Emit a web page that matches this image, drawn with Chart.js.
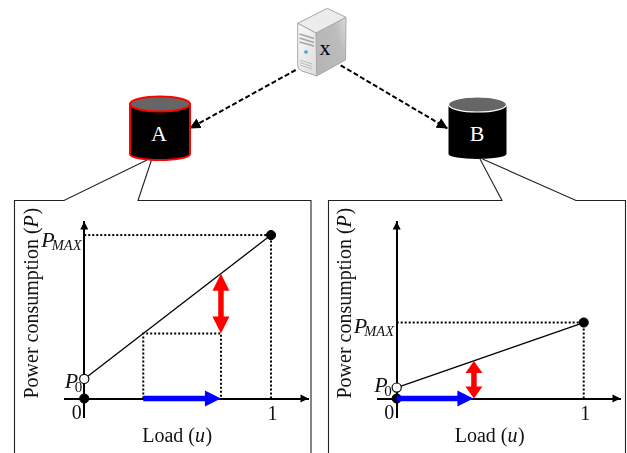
<!DOCTYPE html>
<html>
<head>
<meta charset="utf-8">
<title>Power consumption of servers A and B</title>
<script src="https://cdn.jsdelivr.net/npm/chart.js@4"></script>
<style>
    html, body { margin: 0; padding: 0; background: #fff; }
    #stage { position: relative; width: 627px; height: 453px; overflow: hidden; }
    #diagram { position: absolute; left: 0; top: 0; }
    canvas { position: absolute; top: 201px; }
    #panelA { left: 15px; }
    #panelB { left: 329px; }
</style>
</head>
<body>
<div id="stage">
    <svg id="diagram" width="627" height="453" viewBox="0 0 627 453">
        <defs>
            <linearGradient id="front" x1="0" y1="0" x2="1" y2="1">
                <stop offset="0" stop-color="#fafafa"/>
                <stop offset="1" stop-color="#dcdcdc"/>
            </linearGradient>
            <linearGradient id="side" x1="1" y1="0" x2="0" y2="0.6">
                <stop offset="0" stop-color="#dadada"/>
                <stop offset="0.35" stop-color="#bcbcbc"/>
                <stop offset="1" stop-color="#b6b6b6"/>
            </linearGradient>
            <marker id="head" viewBox="0 0 10 10" refX="9.5" refY="5" markerWidth="5.5" markerHeight="5.5" orient="auto">
                <path d="M0,0 L10,5 L0,10 z" fill="#000"/>
            </marker>
        </defs>

        <!-- panel frames and callouts -->
        <g fill="none" stroke="#222" stroke-width="1.1">
            <path d="M147,160 L64,200.5 L14.5,200.5 L14.5,453"/>
            <path d="M151.5,160 L138,200.5 L311,200.5 L311,453"/>
            <path d="M480,159 L502,200.5 L328.5,200.5 L328.5,453"/>
            <path d="M482.5,159 L576,200.5 L625.5,200.5 L625.5,453"/>
        </g>

        <!-- dashed links -->
        <g fill="none" stroke="#000" stroke-width="2" stroke-dasharray="5 2.5" marker-end="url(#head)">
            <line x1="295.7" y1="70" x2="190" y2="128.3"/>
            <line x1="340.7" y1="65.3" x2="447.3" y2="128.3"/>
        </g>

        <!-- server x -->
        <g stroke-linejoin="round">
            <path d="M316,33 L346,17.3 L345.5,60 L316.7,76 z" fill="url(#side)" stroke="#a8a8a8"/>
            <path d="M297.7,23.3 L327.3,8.3 L346,17.3 L316,33 z" fill="#ececec" stroke="#a8a8a8"/>
            <path d="M297.7,23.3 L316,33 L316.7,76 L302,71 Q297.7,69 297.7,66 z" fill="url(#front)" stroke="#a8a8a8"/>
            <path d="M299.5,34 L314,38.5 M299.5,38 L314,42.5 M299.5,42 L314,46" stroke="#a6a6a6" stroke-width="1.6"/>
            <circle cx="306" cy="52" r="1.8" fill="#3aa0e0"/>
            <path d="M300,60 L312,64 M300,62.5 L312,66.5 M300,65 L312,69" stroke="#b0b0b0" stroke-width="0.8"/>
        </g>
        <text x="325" y="55" font-family="Liberation Serif" font-size="22" text-anchor="middle" fill="#000">x</text>

        <!-- disk A -->
        <path d="M130,104 L130,154 A30,6 0 0 0 190,154 L190,104 z" fill="#000" stroke="#f00" stroke-width="2"/>
        <ellipse cx="160" cy="104" rx="30" ry="7.5" fill="#666" stroke="#f00" stroke-width="2"/>
        <text x="159" y="141" font-family="Liberation Serif" font-size="22" text-anchor="middle" fill="#fff">A</text>

        <!-- disk B -->
        <path d="M448.5,104 L448.5,154 A29,5 0 0 0 506.5,154 L506.5,104 z" fill="#000"/>
        <ellipse cx="477.5" cy="104.5" rx="29" ry="7.5" fill="#666" stroke="#fff" stroke-width="1.2"/>
        <text x="477" y="141" font-family="Liberation Serif" font-size="22" text-anchor="middle" fill="#fff">B</text>
    </svg>
    <canvas id="panelA" width="296" height="252"></canvas>
    <canvas id="panelB" width="297" height="252"></canvas>
</div>

<script>
const xTickValues = [0, 1];
const xTickLabels = ['0', '1'];

// panel A, server with the wide power range
const loadA = [0, 1];
const powerA = [0.12, 1];
const stepLoadA = [0.316, 0.732];
const stepPowerA = [0.398, 0.764];

// panel B, server with the narrow power range
const loadB = [0, 1];
const powerB = [0.067, 0.465];
const stepLoadB = [0, 0.41];
const stepPowerB = [0, 0.23];

const SERIF = '"Liberation Serif", serif';

function arrowHead(ctx, x, y, angle, len, width, color) {
    ctx.save();
    ctx.translate(x, y);
    ctx.rotate(angle);
    ctx.fillStyle = color;
    ctx.beginPath();
    ctx.moveTo(0, 0);
    ctx.lineTo(-len, -width / 2);
    ctx.lineTo(-len, width / 2);
    ctx.closePath();
    ctx.fill();
    ctx.restore();
}

function shaft(ctx, x1, y1, x2, y2, width, color) {
    ctx.strokeStyle = color;
    ctx.lineWidth = width;
    ctx.beginPath();
    ctx.moveTo(x1, y1);
    ctx.lineTo(x2, y2);
    ctx.stroke();
}

function text(ctx, str, x, y, font, align) {
    ctx.font = font;
    ctx.textAlign = align || 'left';
    ctx.fillStyle = '#111';
    ctx.fillText(str, x, y);
}

const panelExtras = {
    id: 'panelExtras',
    afterDraw(chart, args, opts) {
        const ctx = chart.ctx;
        const sx = chart.scales.x, sy = chart.scales.y;
        const x0 = sx.getPixelForValue(0), y0 = sy.getPixelForValue(0);
        ctx.save();
        ctx.textBaseline = 'alphabetic';

        // axis arrow heads
        arrowHead(ctx, sx.right + 0.5, y0, 0, 8, 8, '#000');
        arrowHead(ctx, x0, sy.top - 0.5, -Math.PI / 2, 8, 8, '#000');

        // blue load arrow
        const bx1 = sx.getPixelForValue(opts.blue[0]), bx2 = sx.getPixelForValue(opts.blue[1]);
        shaft(ctx, bx1, y0, bx2 - 14, y0, 5.5, '#0000ff');
        arrowHead(ctx, bx2, y0, 0, 16, 16, '#0000ff');

        // red double arrow
        const rx = sx.getPixelForValue(opts.redX);
        const ry1 = sy.getPixelForValue(opts.red[0]), ry2 = sy.getPixelForValue(opts.red[1]);
        const redLen = opts.redHead;
        shaft(ctx, rx, ry1 - redLen + 2, rx, ry2 + redLen - 2, 5.5, '#ff0000');
        arrowHead(ctx, rx, ry1, Math.PI / 2, redLen, 17, '#ff0000');
        arrowHead(ctx, rx, ry2, -Math.PI / 2, redLen, 17, '#ff0000');

        // tick labels
        xTickValues.forEach((v, i) => {
            const off = v === 0 ? -7.5 : 1.5;
            text(ctx, xTickLabels[i], sx.getPixelForValue(v) + off, y0 + (v === 0 ? 20 : 21.5), '20px ' + SERIF, 'center');
        });

        // P labels
        const yMax = sy.getPixelForValue(opts.pMax), yP0 = sy.getPixelForValue(opts.p0);
        text(ctx, 'P', x0 - 43, yMax + opts.pMaxDy, 'italic 22px ' + SERIF);
        text(ctx, 'MAX', x0 - 32.5, yMax + opts.pMaxDy + 3, 'italic 14.5px ' + SERIF);
        text(ctx, 'P', x0 + opts.p0Dx, yP0 + opts.p0Dy, 'italic 22px ' + SERIF);
        text(ctx, '0', x0 + opts.p0Dx + 10, yP0 + opts.p0Dy + 4, '15px ' + SERIF);

        // axis titles
        ctx.font = '20px ' + SERIF;
        const load = 'Load (', loadW = ctx.measureText(load).width;
        const lx = x0 + 58;
        text(ctx, load, lx, y0 + 43, '20px ' + SERIF);
        text(ctx, 'u', lx + loadW, y0 + 43, 'italic 20px ' + SERIF);
        text(ctx, ')', lx + loadW + 10.5, y0 + 43, '20px ' + SERIF);

        ctx.translate(x0 - 46, y0);
        ctx.rotate(-Math.PI / 2);
        ctx.font = '20px ' + SERIF;
        const pow = 'Power consumption (', pw = ctx.measureText(pow).width;
        text(ctx, pow, 0, 0, '20px ' + SERIF);
        text(ctx, 'P', pw, 0, 'italic 20px ' + SERIF);
        text(ctx, ')', pw + 13, 0, '20px ' + SERIF);
        ctx.restore();
    }
};

function points(xs, ys) {
    return xs.map((x, i) => ({ x: x, y: ys[i] }));
}

function guide(data) {
    return { data: data, showLine: true, borderColor: '#000', borderWidth: 2, borderDash: [2, 2], pointRadius: 0, order: 3 };
}

function makePanel(id, load, power, guides, extras, padding, xRange) {
    const top = { x: load[1], y: power[1] };
    const datasets = guides.map(guide);
    datasets.push({ data: points(load, power), showLine: true, borderColor: '#000', borderWidth: 1.3, pointRadius: 0, order: 2 });
    datasets.push({
        data: [{ x: 0, y: 0 }, top],
        showLine: false, pointRadius: 4.6, pointBackgroundColor: '#000', pointBorderColor: '#000', order: 1
    });
    datasets.push({
        data: [{ x: load[0], y: power[0] }],
        showLine: false, pointRadius: 4.6, pointBackgroundColor: '#fff', pointBorderColor: '#000', pointBorderWidth: 1.2, order: 0
    });
    return new Chart(document.getElementById(id), {
        type: 'scatter',
        data: { datasets: datasets },
        plugins: [panelExtras],
        options: {
            responsive: false,
            animation: false,
            layout: { padding: padding, autoPadding: false },
            plugins: { legend: { display: false }, tooltip: { enabled: false }, panelExtras: extras },
            scales: {
                x: {
                    type: 'linear', min: xRange[0], max: xRange[1], position: { y: 0 },
                    afterBuildTicks: axis => { axis.ticks = xTickValues.map(v => ({ value: v })); },
                    ticks: { display: false },
                    grid: { display: false, drawTicks: false },
                    border: { display: true, color: '#000', width: 2 }
                },
                y: {
                    type: 'linear', min: -0.113, max: 1.08, position: { x: 0 },
                    ticks: { display: false },
                    grid: { display: false, drawTicks: false },
                    border: { display: true, color: '#000', width: 2 }
                }
            }
        }
    });
}

makePanel('panelA', loadA, powerA, [
    [{ x: 0, y: powerA[1] }, { x: 1, y: powerA[1] }],
    [{ x: 1, y: 0 }, { x: 1, y: powerA[1] }],
    [{ x: stepLoadA[0], y: 0 }, { x: stepLoadA[0], y: stepPowerA[0] }, { x: stepLoadA[1], y: stepPowerA[0] }, { x: stepLoadA[1], y: 0 }]
], {
    blue: stepLoadA, redX: stepLoadA[1], red: [stepPowerA[0], stepPowerA[1]],
    redHead: 17, pMax: powerA[1], p0: powerA[0], p0Dx: -19.5, p0Dy: 9.5, pMaxDy: 12
}, { left: 50, right: 3, top: 21, bottom: 36 }, [-0.103, 1.198]);

makePanel('panelB', loadB, powerB, [
    [{ x: 0, y: powerB[1] }, { x: 1, y: powerB[1] }],
    [{ x: 1, y: 0 }, { x: 1, y: powerB[1] }]
], {
    blue: stepLoadB, redX: stepLoadB[1] + 0.003, red: [stepPowerB[0], stepPowerB[1]],
    redHead: 12, pMax: powerB[1], p0: powerB[0], p0Dx: -22.5, p0Dy: 4.5, pMaxDy: 10
}, { left: 49, right: 6, top: 21, bottom: 36 }, [-0.1, 1.194]);
</script>
</body>
</html>
